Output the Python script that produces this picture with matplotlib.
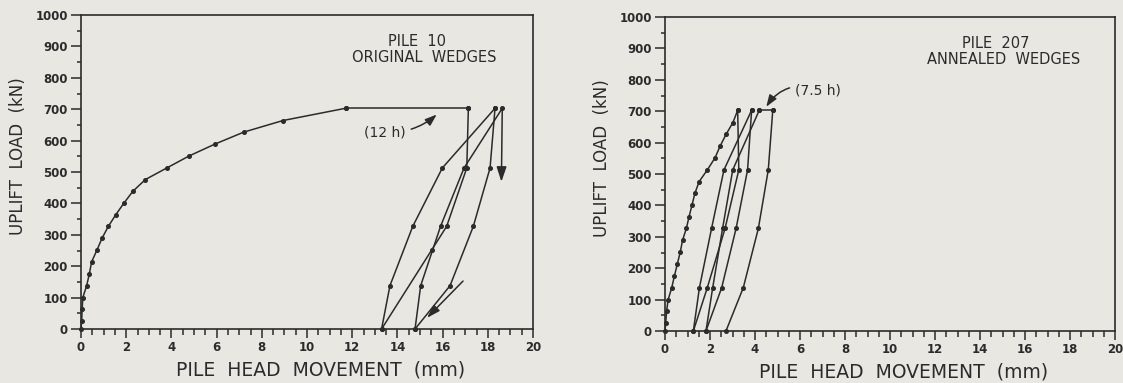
import matplotlib
matplotlib.use("Agg")
import matplotlib.pyplot as plt
from matplotlib.ticker import MultipleLocator

# ---------------- data ----------------
load_steps = [0, 25, 63, 100, 138, 176, 214, 252, 289, 327, 364, 401, 439, 476, 513, 551, 589, 627, 664, 703]

# Pile 10 - original wedges
p10_load_x = [0, 0.03, 0.05, 0.08, 0.25, 0.37, 0.47, 0.71, 0.93, 1.21, 1.54, 1.9, 2.3, 2.85, 3.8, 4.78, 5.93, 7.2, 8.94, 11.71]
p10_hold_x = [11.71, 17.14]
p10_hold_y = [703, 703]
p10_u1_x = [17.14, 17.07, 16.18, 15.52, 13.3]
p10_u1_y = [703, 513, 327, 252, 0]
p10_r1_x = [13.3, 13.67, 14.68, 15.99, 18.32]
p10_r1_y = [0, 138, 327, 513, 703]
p10_u2_x = [18.32, 18.1, 17.36, 16.33, 14.78]
p10_u2_y = [703, 513, 327, 138, 0]
p10_r2_x = [14.78, 15.03, 15.91, 16.95, 18.64]
p10_r2_y = [0, 138, 327, 513, 703]
p10_drop_x = [18.64, 18.6]
p10_drop_y = [703, 460]
p10_arrow_x = [16.99, 15.22]
p10_arrow_y = [159, 29]

# Pile 207 - annealed wedges
p207_load_x = [0, 0.03, 0.07, 0.14, 0.3, 0.42, 0.55, 0.68, 0.78, 0.95, 1.07, 1.2, 1.33, 1.52, 1.88, 2.22, 2.45, 2.72, 3.02, 3.23]
p207_u1_x = [3.23, 3.28, 2.67, 1.88, 1.26]
p207_r1_x = [1.26, 1.53, 2.07, 2.62, 3.85]
p207_u2_x = [3.85, 3.67, 3.16, 2.52, 1.82]
p207_r2_x = [1.82, 2.12, 2.56, 3.01, 4.19]
p207_hold_x = [4.19, 4.79]
p207_u3_x = [4.79, 4.59, 4.15, 3.48, 2.71]
cyc_down_y = [703, 513, 327, 138, 0]
cyc_up_y = [0, 138, 327, 513, 703]

x_ticks = list(range(0, 21, 2))
y_ticks = list(range(0, 1001, 100))

# ---------------- style ----------------
BG = "#e9e7e2"
INK = "#2b2b2b"
LW = 1.1
MS = 2.6

fig = plt.figure(figsize=(11.23, 3.83), dpi=100, facecolor=BG)
ax1 = fig.add_axes([81/1123, 54/383, 452/1123, 314/383])
ax2 = fig.add_axes([665/1123, 52/383, 450/1123, 314/383])


def style(ax):
    ax.set_facecolor(BG)
    ax.set_xlim(0, 20)
    ax.set_ylim(0, 1000)
    ax.set_xticks(x_ticks)
    ax.set_yticks(y_ticks)
    ax.xaxis.set_minor_locator(MultipleLocator(0.5))
    ax.yaxis.set_minor_locator(MultipleLocator(50))
    for s in ax.spines.values():
        s.set_color(INK)
        s.set_linewidth(1.2)
    ax.tick_params(axis="both", which="both", direction="out", color=INK, width=1.1)
    ax.tick_params(axis="y", which="major", length=7.5, pad=2)
    ax.tick_params(axis="y", which="minor", length=3)
    ax.tick_params(axis="x", which="major", length=6.5, pad=2)
    ax.tick_params(axis="x", which="minor", length=4.3)
    for lab in ax.get_xticklabels() + ax.get_yticklabels():
        lab.set_fontsize(8.5)
        lab.set_fontweight("bold")
        lab.set_color(INK)
    ax.text(-0.14, 0.55, "UPLIFT  LOAD  (kN)", transform=ax.transAxes, rotation=90,
            ha="center", va="center", fontsize=12, color=INK)
    ax.text(0.53, -0.13, "PILE  HEAD  MOVEMENT  (mm)", transform=ax.transAxes,
            ha="center", va="center", fontsize=13.5, color=INK)


def curve(ax, xs, ys, marker=True):
    ax.plot(xs, ys, color=INK, lw=LW, marker="o" if marker else None,
            ms=MS, mfc=INK, mec=INK, clip_on=False)


style(ax1)
style(ax2)

# Pile 10
curve(ax1, p10_load_x, load_steps)
curve(ax1, p10_hold_x, p10_hold_y)
curve(ax1, p10_u1_x, p10_u1_y)
curve(ax1, p10_r1_x, p10_r1_y)
curve(ax1, p10_u2_x, p10_u2_y)
curve(ax1, p10_r2_x, p10_r2_y)
ax1.annotate("", xy=(p10_drop_x[1], p10_drop_y[1]), xytext=(p10_drop_x[0], p10_drop_y[0]),
             arrowprops=dict(arrowstyle="-|>,head_length=0.9,head_width=0.3", color=INK, lw=LW))
ax1.annotate("", xy=(p10_arrow_x[1], p10_arrow_y[1]), xytext=(p10_arrow_x[0], p10_arrow_y[0]),
             arrowprops=dict(arrowstyle="-|>,head_length=0.8,head_width=0.25", color=INK, lw=LW))
ax1.text(14.87, 917, "PILE  10", ha="center", va="center", fontsize=10.5, color=INK)
ax1.text(15.2, 866, "ORIGINAL  WEDGES", ha="center", va="center", fontsize=10.5, color=INK)
ax1.annotate("(12 h)", xy=(15.74, 683), xytext=(13.45, 626), ha="center", va="center",
             fontsize=10, color=INK,
             arrowprops=dict(arrowstyle="-|>,head_length=0.7,head_width=0.25", color=INK,
                             lw=LW, connectionstyle="arc3,rad=0.2", shrinkA=2, shrinkB=0))

# Pile 207
curve(ax2, p207_load_x, load_steps)
curve(ax2, p207_u1_x, cyc_down_y)
curve(ax2, p207_r1_x, cyc_up_y)
curve(ax2, p207_u2_x, cyc_down_y)
curve(ax2, p207_r2_x, cyc_up_y)
curve(ax2, p207_hold_x, [703, 703])
curve(ax2, p207_u3_x, cyc_down_y)
ax2.text(14.7, 917, "PILE  207", ha="center", va="center", fontsize=10.5, color=INK)
ax2.text(15.07, 866, "ANNEALED  WEDGES", ha="center", va="center", fontsize=10.5, color=INK)
ax2.annotate("(7.5 h)", xy=(4.5, 714), xytext=(6.8, 767), ha="center", va="center",
             fontsize=10, color=INK,
             arrowprops=dict(arrowstyle="-|>,head_length=0.7,head_width=0.25", color=INK,
                             lw=LW, connectionstyle="arc3,rad=0.4", shrinkA=2, shrinkB=0))

fig.savefig("out.png", dpi=100, facecolor=BG)
